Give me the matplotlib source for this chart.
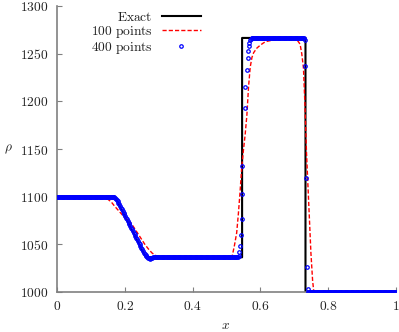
import numpy as np
import matplotlib
matplotlib.use("Agg")
import matplotlib.pyplot as plt
from matplotlib.ticker import FuncFormatter

plt.rcParams['mathtext.fontset'] = 'cm'
plt.rcParams['font.family'] = ['DejaVu Serif']

# ---------------- data ----------------
exact_x = [0.0, 0.171, 0.19, 0.21, 0.23, 0.25, 0.262, 0.546, 0.546, 0.733, 0.733, 1.0]
exact_rho = [1100, 1100, 1086.7, 1072.7, 1058.7, 1044.7, 1036.4, 1036.4, 1266.5, 1266.5, 1000, 1000]

red_x = [0.0, 0.12, 0.13, 0.14, 0.15, 0.16, 0.17, 0.18, 0.19, 0.20, 0.21, 0.22, 0.23,
         0.24, 0.25, 0.26, 0.27, 0.28, 0.29, 0.30, 0.31, 0.51, 0.517, 0.523, 0.530,
         0.535, 0.540, 0.545, 0.550, 0.555, 0.560, 0.565, 0.570, 0.575, 0.580, 0.590,
         0.600, 0.610, 0.620, 0.640, 0.660, 0.680, 0.700, 0.710, 0.717, 0.722, 0.727,
         0.731, 0.736, 0.749, 0.754, 0.757, 0.760, 1.0]
red_rho = [1100, 1100, 1099.6, 1098.8, 1097.3, 1094.5, 1090, 1086, 1082, 1078, 1075.5,
           1071.5, 1066, 1060.5, 1055, 1049.5, 1045, 1041, 1038.5, 1037, 1036.5, 1036.5,
           1038, 1048, 1062, 1082, 1105, 1131, 1149, 1165, 1185, 1215, 1236, 1246, 1251,
           1256, 1259, 1261.5, 1263, 1264.5, 1265.3, 1265.5, 1265, 1263.5, 1260, 1250,
           1235, 1200, 1146, 1041, 1012, 1002, 1000, 1000]

# 400-point solution: flat runs (start, end, rho) on the 0.0025 grid, plus explicit points
grid_dx = 0.0025
blue_flat_runs = [(0.00125, 0.16875, 1100.0),
                  (0.28375, 0.53125, 1036.4),
                  (0.57375, 0.72875, 1266.2),
                  (0.74125, 0.99875, 1000.0)]
blue_rare_x = [0.17125, 0.17375, 0.17625, 0.17875, 0.18125, 0.18375, 0.18625, 0.18875,
               0.19125, 0.19375, 0.19625, 0.19875, 0.20125, 0.20375, 0.20625, 0.20875,
               0.21125, 0.21375, 0.21625, 0.21875, 0.22125, 0.22375, 0.22625, 0.22875,
               0.23125, 0.23375, 0.23625, 0.23875, 0.24125, 0.24375, 0.24625, 0.24875,
               0.25125, 0.25375, 0.25625, 0.25875, 0.26125, 0.26375, 0.26625, 0.26875,
               0.27125, 0.27375, 0.27625, 0.27875, 0.28125]
blue_rare_rho = [1099.0, 1098.0, 1096.8, 1095.3, 1093.7, 1092.0, 1090.2, 1088.5,
                 1086.7, 1085.0, 1083.2, 1081.5, 1079.7, 1078.0, 1076.2, 1074.5,
                 1072.7, 1071.0, 1069.2, 1067.5, 1065.7, 1064.0, 1062.2, 1060.5,
                 1058.7, 1057.0, 1055.2, 1053.5, 1051.7, 1050.0, 1048.2, 1046.5,
                 1044.7, 1043.0, 1041.4, 1039.9, 1038.5, 1037.3, 1036.3, 1035.6,
                 1035.2, 1035.1, 1035.3, 1035.7, 1036.1]
blue_jump_x = [0.53375, 0.53625, 0.5375, 0.539, 0.542, 0.545, 0.546, 0.547,
               0.5546, 0.556, 0.559, 0.562, 0.564, 0.566, 0.567, 0.569, 0.5715,
               0.732, 0.733, 0.734, 0.736, 0.739]
blue_jump_rho = [1036.6, 1037.5, 1042.3, 1048.6, 1059.8, 1077.0, 1102.5, 1132.6,
                 1192.7, 1215.0, 1233.0, 1245.0, 1253.0, 1258.5, 1261.6, 1264.0, 1265.5,
                 1264.4, 1237.5, 1120.0, 1026.5, 1002.8]

x_ticks = [0, 0.2, 0.4, 0.6, 0.8, 1]
x_tick_labels = ['0', '0.2', '0.4', '0.6', '0.8', '1']
y_ticks = [1000, 1050, 1100, 1150, 1200, 1250, 1300]

# assemble blue series
bx = [blue_rare_x, blue_jump_x]
by = [blue_rare_rho, blue_jump_rho]
for s, e, r in blue_flat_runs:
    xs = np.arange(s, e + grid_dx / 2, grid_dx)
    bx.append(xs)
    by.append(np.full(len(xs), r))
blue_x = np.concatenate([np.asarray(a, float) for a in bx])
blue_rho = np.concatenate([np.asarray(a, float) for a in by])
order = np.argsort(blue_x)
blue_x, blue_rho = blue_x[order], blue_rho[order]

# ---------------- figure ----------------
fs = 9.7
fig = plt.figure(figsize=(3.99, 3.32), dpi=100)
ax = fig.add_axes([57 / 399, 40 / 332, 339 / 399, 286 / 332])

ax.plot(exact_x, exact_rho, color='black', lw=1.5, label=r'$\mathrm{Exact}$', zorder=2)
ax.plot(red_x, red_rho, color='#ff0000', lw=1.0, dashes=(3, 1.5),
        label=r'$\mathrm{100\ points}$', zorder=3)
ax.plot(blue_x, blue_rho, linestyle='none', marker='o', markersize=2.5,
        markerfacecolor='none', markeredgecolor='#0000ff', markeredgewidth=0.9,
        label=r'$\mathrm{400\ points}$', zorder=4)

ax.set_xlim(0, 1)
ax.set_ylim(1000, 1300)
ax.set_xticks(x_ticks)
ax.set_xticklabels(['$' + t + '$' for t in x_tick_labels])
ax.set_yticks(y_ticks)
ax.yaxis.set_major_formatter(FuncFormatter(lambda v, p: '$%d$' % v))

for side in ['top', 'right']:
    ax.spines[side].set_visible(False)
for side in ['left', 'bottom']:
    ax.spines[side].set_color('#808080')
    ax.spines[side].set_linewidth(1.2)

ax.tick_params(direction='in', length=3.5, width=0.8, color='#808080',
               labelsize=fs, labelcolor='#222222')
ax.tick_params(axis='y', pad=6.5)
ax.tick_params(axis='x', pad=6)

ax.set_xlabel(r'$x$', fontsize=fs, color='#222222')
ax.xaxis.set_label_coords(0.496, -0.118)
ax.xaxis.label.set_va('center')
ax.set_ylabel(r'$\rho$', fontsize=fs, rotation=0, color='#222222')
ax.yaxis.set_label_coords(-0.143, 0.5)
ax.yaxis.label.set_va('center')
ax.yaxis.label.set_ha('center')

leg = ax.legend(loc='upper right', bbox_to_anchor=(144 / 339, 0.9825),
                frameon=False, fontsize=fs, markerfirst=False, borderpad=0,
                handlelength=2.9, handletextpad=0.7, labelspacing=0.0,
                borderaxespad=0, numpoints=1)
for t in leg.get_texts():
    t.set_color('#222222')

fig.savefig('out.png', dpi=100)
